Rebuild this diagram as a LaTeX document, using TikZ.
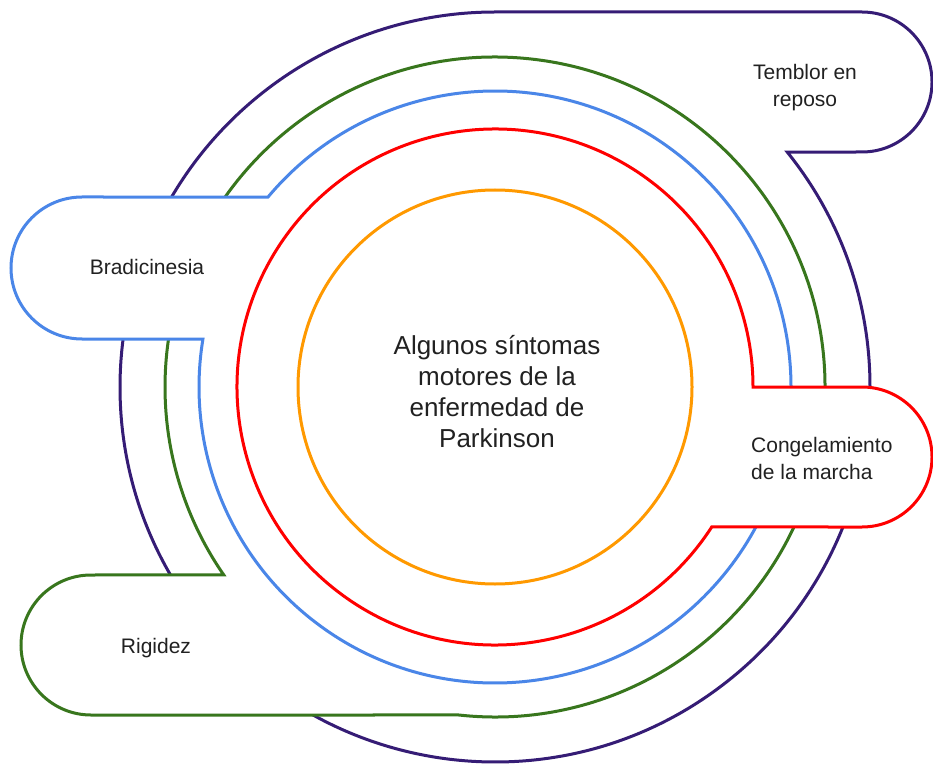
\documentclass[tikz,border=0pt]{standalone}
\usepackage{fontspec}
\setmainfont{Liberation Sans}
\usetikzlibrary{positioning}

\definecolor{tremor}{HTML}{351C75}
\definecolor{rigid}{HTML}{38761D}
\definecolor{brady}{HTML}{4A86E8}
\definecolor{freeze}{HTML}{FF0000}
\definecolor{core}{HTML}{FF9900}

\tikzset{
  ring/.style={line width=3pt, fill=white},
  tag/.style={font=\fontsize{21}{27}\selectfont, text=black!87, align=center, inner sep=0pt}
}

\begin{document}
\begin{tikzpicture}[x=1pt,y=1pt]
\useasboundingbox (0,0) rectangle (933,764);

% Temblor en reposo
\draw[ring, draw=tremor] (495,377) ++(38.8:375) arc[start angle=38.8, end angle=-270, radius=375]
  -- (862,752) arc[start angle=90, end angle=-90, radius=70] -- cycle;

% Rigidez
\draw[ring, draw=rigid] (495,377) ++(-96.3:330) arc[start angle=-96.3, end angle=214.7, radius=330]
  -- (91,189) arc[start angle=90, end angle=270, radius=70] -- cycle;

% Bradicinesia
\draw[ring, draw=brady] (495,377) ++(140.07:296) arc[start angle=140.07, end angle=-189.33, radius=296]
  -- (82,425) arc[start angle=270, end angle=90, radius=71] -- cycle;

% Congelamiento de la marcha
\draw[ring, draw=freeze] (495,377) ++(-32.86:258) arc[start angle=-32.86, end angle=-360, radius=258]
  -- (862,377) arc[start angle=90, end angle=-90, radius=70] -- cycle;

\draw[ring, draw=core] (495,377) circle[radius=197];

\node[tag, font=\fontsize{26}{31}\selectfont] (center) at (497,372) {Algunos síntomas\\motores de la\\enfermedad de\\Parkinson};
\node[tag] (temblor) at (805,676) {Temblor en\\reposo};
\node[tag, align=left, anchor=west] (congel) at (751,306) {Congelamiento\\de la marcha};
\node[tag] (bradi) at (147,497) {Bradicinesia};
\node[tag] (rigidez) at (156,116) {Rigidez};
\end{tikzpicture}
\end{document}
